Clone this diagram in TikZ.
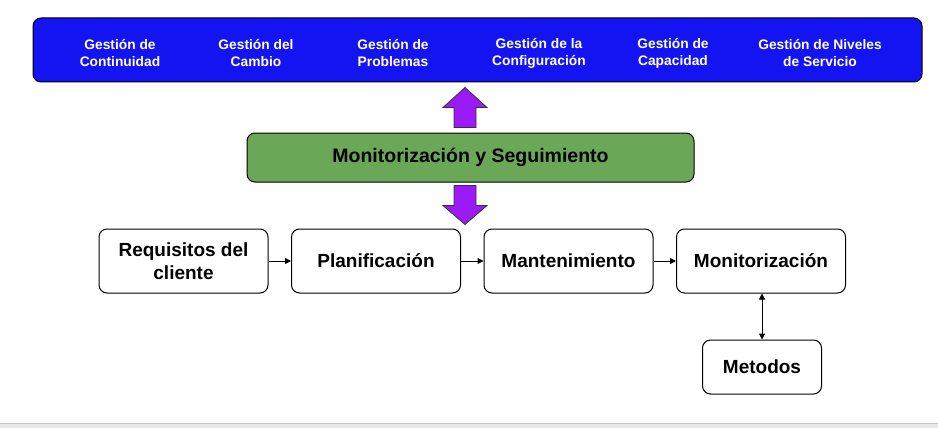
\documentclass[tikz,border=0pt]{standalone}
\usepackage{fontspec}
\setmainfont{Liberation Sans}
\usetikzlibrary{positioning,arrows.meta}
\definecolor{topblue}{RGB}{20,20,242}
\definecolor{midgreen}{RGB}{106,168,88}
\definecolor{bigpurple}{RGB}{155,26,245}
\tikzset{basic/.style={draw,rounded corners=8pt,line width=1pt,
                       text badly centered,inner sep=0pt}}
\tikzset{stage/.style={basic,fill=white,minimum width=169pt,minimum height=64pt,
                       align=center,font=\fontsize{19}{23}\selectfont\bfseries}}
\tikzset{topic/.style={align=center,text=white,
                       font=\fontsize{13.8}{17}\selectfont\bfseries}}
\tikzset{fatarrow/.style={draw=black!80,fill=bigpurple,line width=0.8pt,line join=miter}}
\tikzset{flow/.style={-{Triangle[length=6pt,width=6pt]},line width=1pt}}

\begin{document}
\begin{tikzpicture}[x=1pt,y=-1pt]
    \useasboundingbox (0,0) rectangle (938,428);
    % Grey strip at the bottom
    \fill[black!9] (0,423) rectangle (938,428);
    \draw[black!22] (0,423) -- (938,423);
    % Draw blue box with the management areas
    \node[basic,fill=topblue,minimum width=889pt,minimum height=64pt] (areas) at (477.5,50) {};
    \foreach \t/\x [count=\i] in {{Gestión de\\Continuidad}/120,{Gestión del\\Cambio}/256,
                                  {Gestión de\\Problemas}/393,{Gestión de la\\Configuración}/539,
                                  {Gestión de\\Capacidad}/673,{Gestión de Niveles\\de Servicio}/820}{%
          \node[topic] (a\i) at (\x,53) {\t};
        }
    % Draw green box
    \node[basic,fill=midgreen,minimum width=447pt,minimum height=49pt,
          font=\fontsize{19.5}{23}\selectfont\bfseries] (track) at (470.5,157.5) {Monitorización y Seguimiento};
    % Purple arrows up and down
    \draw[fatarrow] ([xshift=-16.5pt,yshift=5pt]track.north) -- ++(0,-20) -- ++(-11,0)
                    -- ++(22,-20) -- ++(22,20) -- ++(-11,0) -- ++(0,20) -- cycle;
    \draw[fatarrow] ([xshift=-16.5pt,yshift=-3pt]track.south) -- ++(0,20) -- ++(-11,0)
                    -- ++(22,19) -- ++(22,-19) -- ++(-11,0) -- ++(0,-20) -- cycle;
    % Draw the stages
    \node[stage] (req) at (183.5,261) {Requisitos del\\cliente};
    \node[stage,right=22.5pt of req] (plan) {Planificación};
    \node[stage,right=22.5pt of plan] (maint) {Mantenimiento};
    \node[stage,right=22.5pt of maint] (mon) {Monitorización};
    \node[stage,minimum width=119pt,minimum height=54pt] (meth) at (762,367) {Metodos};
    % Connect the stages
    \draw[flow] (req) -- (plan);
    \draw[flow] (plan) -- (maint);
    \draw[flow] (maint) -- (mon);
    \draw[{Triangle[length=6pt,width=6pt]}-{Triangle[length=6pt,width=6pt]},line width=1pt]
          (meth.north) -- (meth.north |- mon.south);
\end{tikzpicture}
\end{document}
